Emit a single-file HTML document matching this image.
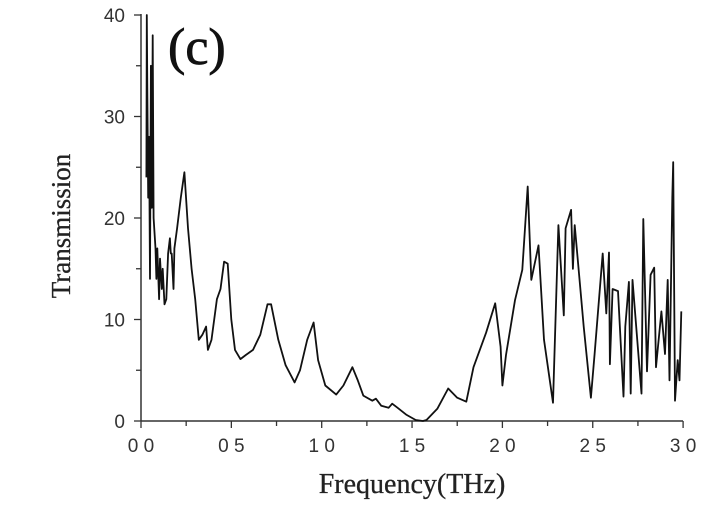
<!DOCTYPE html>
<html><head><meta charset="utf-8"><style>
html,body{margin:0;padding:0;background:#fff;}
svg{display:block}
</style></head><body>
<svg width="723" height="512" id="chart">
<text x="168" y="64" font-family="Liberation Serif, serif" font-size="52" fill="#111" stroke="#111" stroke-width="0.8">(c)</text>
<text transform="translate(70,226) rotate(-90)" text-anchor="middle" font-family="Liberation Serif, serif" font-size="27" fill="#222" stroke="#222" stroke-width="0.3">Transmission</text>
<text x="412" y="493" text-anchor="middle" font-family="Liberation Serif, serif" font-size="28" fill="#222" stroke="#222" stroke-width="0.3">Frequency(THz)</text>
</svg>
<script>
const xTicks=[0,0.5,1.0,1.5,2.0,2.5,3.0];
const xTickLabels=["0 0","0 5","1 0","1 5","2 0","2 5","3 0"];
const yTicks=[0,10,20,30,40];
const yTickLabels=["0","10","20","30","40"];
const freq=[0.03,0.032,0.035,0.04,0.045,0.05,0.055,0.06,0.065,0.07,0.08,0.085,0.09,0.1,0.105,0.115,0.12,0.13,0.14,0.15,0.16,0.165,0.17,0.18,0.185,0.2,0.22,0.24,0.26,0.28,0.3,0.32,0.34,0.36,0.37,0.39,0.42,0.44,0.46,0.48,0.5,0.52,0.55,0.58,0.62,0.66,0.7,0.72,0.76,0.8,0.85,0.88,0.92,0.955,0.98,1.02,1.08,1.12,1.17,1.2,1.23,1.28,1.3,1.33,1.37,1.39,1.42,1.47,1.52,1.56,1.58,1.64,1.70,1.75,1.80,1.84,1.91,1.96,1.99,2.0,2.02,2.07,2.11,2.14,2.16,2.20,2.23,2.28,2.31,2.34,2.35,2.38,2.39,2.40,2.45,2.49,2.51,2.555,2.575,2.59,2.595,2.61,2.64,2.67,2.68,2.70,2.71,2.72,2.77,2.78,2.80,2.82,2.84,2.85,2.88,2.90,2.915,2.925,2.94,2.945,2.955,2.97,2.98,2.99];
const trans=[24,40,33,22,28,14,35,21,38,20,17,14,17,12,16,13,15,11.5,12,16.5,18,16.5,16.5,13,17,19,22,24.5,19,15,12,8,8.5,9.3,7,8,12,13,15.7,15.5,10,7,6.1,6.5,7,8.5,11.5,11.5,8,5.5,3.8,5,8,9.7,6,3.5,2.6,3.5,5.3,4,2.5,2.0,2.2,1.5,1.3,1.7,1.3,0.6,0.1,0.0,0.1,1.2,3.2,2.3,1.9,5.3,8.7,11.6,7.3,3.5,6.5,11.9,14.9,23.1,13.9,17.3,8.0,1.8,19.3,10.4,19.0,20.8,15,19.3,9.3,2.3,6.6,16.5,10.6,16.6,5.6,13,12.8,2.4,9.3,13.7,2.7,13.9,2.7,19.9,4.9,14.4,15.1,5.3,10.8,6.6,13.9,4,22,25.5,2,6,4,10.8];
const NS="http://www.w3.org/2000/svg";
const svg=document.getElementById('chart');
const X=f=>141+f*180.7, Y=t=>421-t*10.15;
function el(tag,attrs){const e=document.createElementNS(NS,tag);for(const k in attrs)e.setAttribute(k,attrs[k]);svg.appendChild(e);return e;}
const xa=el('line',{x1:141,y1:421,x2:683,y2:421,stroke:'#333','stroke-width':1.5});


const ya=el('line',{x1:141,y1:14,x2:141,y2:421,stroke:'#333','stroke-width':1.5});


for(let v=0;v<=3.001;v+=0.25){const major=Math.abs(v*2-Math.round(v*2))<1e-6;const t=el('line',{x1:X(v),y1:421,x2:X(v),y2:421+(major?7:5),stroke:'#333','stroke-width':1.3});

}
for(let v=0;v<=40;v+=5){const major=v%10===0;const t=el('line',{x1:141,y1:Y(v),x2:141-(major?7:5),y2:Y(v),stroke:'#333','stroke-width':1.3});

}
xTicks.forEach((v,i)=>{const t=el('text',{x:X(v),y:452,'text-anchor':'middle','font-family':'Liberation Sans, sans-serif','font-size':19,fill:'#333'});t.textContent=xTickLabels[i];

});
yTicks.forEach((v,i)=>{const t=el('text',{x:125,y:Y(v)+7,'text-anchor':'end','font-family':'Liberation Sans, sans-serif','font-size':19,fill:'#333'});t.textContent=yTickLabels[i];

});
const d=freq.map((f,i)=>(i?'L':'M')+X(f).toFixed(1)+','+Y(trans[i]).toFixed(1)).join('');
const p=el('path',{d:d,fill:'none',stroke:'#111','stroke-width':1.8,'stroke-linejoin':'round'});


</script>
</body></html>
